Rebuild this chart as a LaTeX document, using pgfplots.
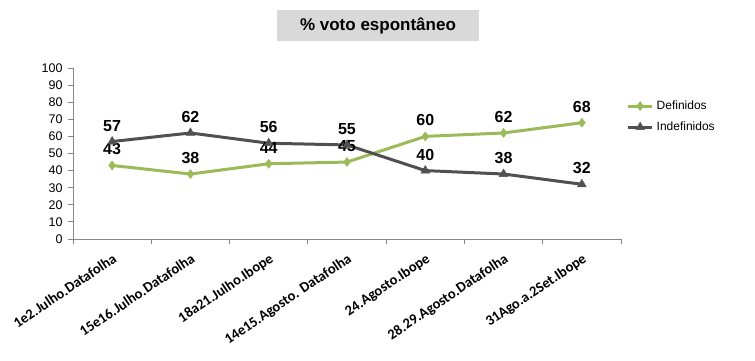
\documentclass[border=0pt]{standalone}
\usepackage{fontspec}
\setmainfont{Liberation Sans}
\newfontfamily\carlito{Carlito}
\usepackage{pgfplots}
\pgfplotsset{compat=1.18}
\definecolor{defgreen}{RGB}{155,187,89}
\definecolor{indgray}{RGB}{80,80,80}
\definecolor{axgray}{RGB}{134,134,134}
\definecolor{titlegray}{RGB}{217,217,217}
\begin{document}
\begin{tikzpicture}
\path[use as bounding box] (0,0) rectangle (755bp,361bp);
\node[fill=titlegray, minimum width=202bp, minimum height=31bp, inner sep=0pt,
  font=\fontsize{17bp}{20bp}\selectfont\bfseries] at (378bp,335.5bp) {\% voto espontâneo};
\begin{axis}[
  at={(73bp,122bp)}, anchor=south west,
  scale only axis, width=548bp, height=171bp,
  xmin=-0.5, xmax=6.5, ymin=0, ymax=100,
  axis x line=bottom, axis y line=left,
  axis line style={draw=axgray, line width=0.8bp, -},
  ytick={0,10,...,100},
  xtick={0,...,6},
  xticklabels={1e2.Julho.Datafolha,15e16.Julho.Datafolha,18a21.Julho.Ibope,14e15.Agosto. Datafolha,24.Agosto.Ibope,28.29.Agosto.Datafolha,31Ago.a.2Set.Ibope},
  minor xtick={-0.5,0.5,...,6.5},
  x tick style={draw=none},
  minor x tick style={draw=axgray, line width=0.8bp},
  y tick style={draw=axgray, line width=0.8bp},
  tick align=outside,
  major tick length=5bp, minor tick length=5bp,
  /pgf/number format/assume math mode=true,
  yticklabel style={font=\fontsize{12.5bp}{14bp}\selectfont, xshift=-2bp},
  xticklabel style={font=\fontsize{14.5bp}{17bp}\selectfont\carlito\bfseries, yshift=-7bp, rotate=34, anchor=north east, inner sep=1bp},
  nodes near coords,
  every node near coord/.append style={font=\fontsize{16bp}{18bp}\selectfont\bfseries, anchor=base, yshift=10.5bp, inner sep=0pt, text=black},
  legend style={at={(1.01,0.82)}, anchor=north west, draw=none, fill=none,
    font=\fontsize{12bp}{14bp}\selectfont, row sep=7bp, inner sep=0pt,
    /tikz/every odd column/.append style={column sep=1bp}},
  legend cell align=left,
  legend image code/.code={\draw[mark repeat=2,mark phase=2,#1] plot coordinates {(0bp,0bp) (12bp,0bp) (24bp,0bp)};},
  clip=false,
]
\addplot[defgreen, line width=3bp, mark=diamond*, mark size=4.5bp, mark options={fill=defgreen, line width=0.5bp}]
  coordinates {(0,43) (1,38) (2,44) (3,45) (4,60) (5,62) (6,68)};
\addlegendentry{Definidos}
\addplot[indgray, line width=3bp, mark=triangle*, mark size=5bp, mark options={fill=indgray, line width=0.5bp}]
  coordinates {(0,57) (1,62) (2,56) (3,55) (4,40) (5,38) (6,32)};
\addlegendentry{Indefinidos}
\end{axis}
\end{tikzpicture}
\end{document}
